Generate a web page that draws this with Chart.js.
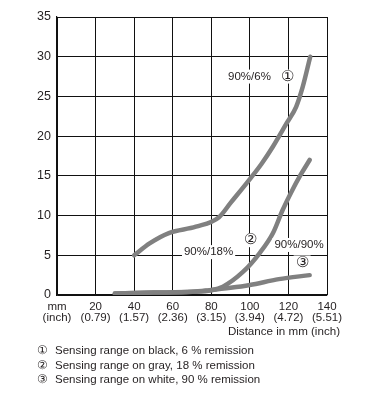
<!DOCTYPE html>
<html>
<head>
<meta charset="utf-8">
<script src="https://cdn.jsdelivr.net/npm/chart.js@4"></script>
<style>
  body { margin: 0; background: #fff; }
  #wrap { position: relative; width: 378px; height: 396px; }
  #legend { position: absolute; left: 37px; top: 343px; font: 11.5px "Liberation Sans", Arial, sans-serif; color: #231f20; }
  #legend div { height: 14.5px; line-height: 14.5px; }
  #legend span { display: inline-block; width: 18px; }
</style>
</head>
<body>
<div id="wrap">
  <canvas id="chart" width="378" height="396"></canvas>
  <div id="legend">
    <div><span>①</span>Sensing range on black, 6 % remission</div>
    <div><span>②</span>Sensing range on gray, 18 % remission</div>
    <div><span>③</span>Sensing range on white, 90 % remission</div>
  </div>
</div>
<script>
'use strict';
const xTicksMm = ['mm', '20', '40', '60', '80', '100', '120', '140'];
const xTicksInch = ['(inch)', '(0.79)', '(1.57)', '(2.36)', '(3.15)', '(3.94)', '(4.72)', '(5.51)'];
const xTitle = 'Distance in mm (inch)';

const blackX = [40, 48, 58, 72, 84, 90, 100, 106, 112, 119, 124, 127.4, 131.3];
const blackY = [5, 6.5, 7.8, 8.6, 9.8, 11.6, 14.6, 16.5, 18.7, 21.6, 23.7, 26.2, 30];
const grayX = [30, 50, 70, 80, 86, 96.4, 105, 112, 117, 122, 126, 131];
const grayY = [0.2, 0.3, 0.4, 0.6, 1.05, 2.9, 5.25, 7.8, 10.7, 13.2, 15, 17];
const whiteX = [30, 50, 70, 79, 90, 100, 115, 131];
const whiteY = [0.2, 0.3, 0.4, 0.6, 0.9, 1.26, 2.0, 2.5];

const labels = [
  { text: '90%/6%', x: 99.8, y: 27.5 },
  { text: '①', x: 119.5, y: 27.5, big: true },
  { text: '90%/18%', x: 78.6, y: 5.4 },
  { text: '②', x: 100.2, y: 6.9, big: true },
  { text: '90%/90%', x: 125.5, y: 6.3 },
  { text: '③', x: 127.1, y: 4.1, big: true },
];

const toPoints = (xs, ys) => xs.map((x, i) => ({ x: x, y: ys[i] }));
const FONT = '"Liberation Sans", Arial, sans-serif';
const TEXT = '#231f20';

const lineStyle = {
  borderColor: '#808080',
  borderWidth: 4.5,
  borderCapStyle: 'round',
  pointRadius: 0,
  fill: false,
  cubicInterpolationMode: 'monotone',
};

const curveLabels = {
  id: 'curveLabels',
  afterDatasetsDraw(chart) {
    const ctx = chart.ctx;
    const xs = chart.scales.x;
    const ys = chart.scales.y;
    ctx.save();
    ctx.textAlign = 'center';
    ctx.textBaseline = 'middle';
    labels.forEach((l) => {
      const px = xs.getPixelForValue(l.x);
      const py = ys.getPixelForValue(l.y);
      ctx.font = (l.big ? '15px ' : '11.5px ') + FONT;
      const w = ctx.measureText(l.text).width;
      ctx.fillStyle = '#fff';
      ctx.fillRect(px - w / 2 - 2, py - 7, w + 4, 14);
      ctx.fillStyle = TEXT;
      ctx.fillText(l.text, px, py);
    });
    // axis title sits a bit right of the plot edge
    ctx.font = '11.6px ' + FONT;
    ctx.textAlign = 'right';
    ctx.fillText(xTitle, xs.right + 13, xs.bottom - 8);
    ctx.restore();
  },
};

new Chart(document.getElementById('chart').getContext('2d'), {
  type: 'line',
  data: {
    datasets: [
      Object.assign({ label: '1', data: toPoints(blackX, blackY) }, lineStyle),
      Object.assign({ label: '2', data: toPoints(grayX, grayY) }, lineStyle),
      Object.assign({ label: '3', data: toPoints(whiteX, whiteY) }, lineStyle),
    ],
  },
  options: {
    responsive: false,
    animation: false,
    layout: { padding: { left: 0, top: 17, right: 51, bottom: 56 } },
    plugins: { legend: { display: false }, tooltip: { enabled: false } },
    scales: {
      x: {
        type: 'linear',
        min: 0,
        max: 140,
        afterFit: (s) => { s.height = 45; },
        grid: { color: '#111', lineWidth: 1, drawTicks: false },
        border: { color: '#111', width: 1.2 },
        ticks: {
          stepSize: 20,
          maxRotation: 0,
          padding: 6,
          color: TEXT,
          font: { family: FONT, size: 11.5, lineHeight: 0.95 },
          callback: (v, i) => [xTicksMm[i], xTicksInch[i]],
        },
      },
      y: {
        min: 0,
        max: 35,
        afterFit: (s) => { s.width = 57; },
        grid: { color: '#111', lineWidth: 1, drawTicks: false },
        border: { color: '#111', width: 1.2 },
        ticks: {
          stepSize: 5,
          padding: 6,
          color: TEXT,
          font: { family: FONT, size: 12.5 },
        },
      },
    },
  },
  plugins: [curveLabels],
});
</script>
</body>
</html>
